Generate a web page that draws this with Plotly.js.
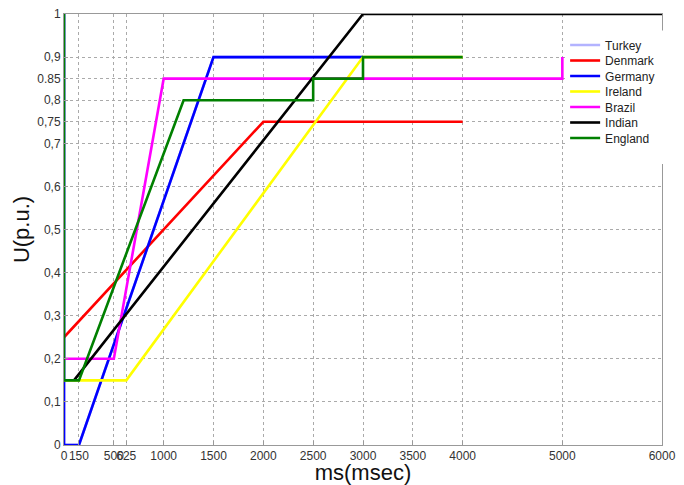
<!DOCTYPE html>
<html>
<head>
<meta charset="utf-8">
<script src="https://cdn.plot.ly/plotly-3.0.1.min.js"></script>
<style>html,body{margin:0;padding:0;background:#fff;}#chart{width:684px;height:485px;}</style>
</head>
<body>
<div id="chart"></div>
<script>
// Data (ms, p.u.)
const turkeyX = [0, 0, 150, 1500, 3000];
const turkeyY = [1, 0, 0, 0.9, 0.9];
const denmarkX = [0, 2000, 4000];
const denmarkY = [0.25, 0.75, 0.75];
const germanyX = [0, 0, 150, 1500, 3000];
const germanyY = [1, 0, 0, 0.9, 0.9];
const irelandX = [0, 625, 3000, 4000];
const irelandY = [0.15, 0.15, 0.9, 0.9];
const brazilX = [0, 500, 1000, 5000, 5000];
const brazilY = [0.2, 0.2, 0.85, 0.85, 0.9];
const indianX = [100, 3000, 6000];
const indianY = [0.15, 1, 1];
const englandX = [0, 0, 150, 1200, 2500, 2500, 3000, 3000, 4000];
const englandY = [1, 0.15, 0.15, 0.8, 0.8, 0.85, 0.85, 0.9, 0.9];

const seriesNames = ['Turkey', 'Denmark', 'Germany', 'Ireland', 'Brazil', 'Indian', 'England'];
const seriesColors = ['#b3b3ff', '#ff0000', '#0000ff', '#ffff00', '#ff00ff', '#000000', '#008000'];
const seriesX = [turkeyX, denmarkX, germanyX, irelandX, brazilX, indianX, englandX];
const seriesY = [turkeyY, denmarkY, germanyY, irelandY, brazilY, indianY, englandY];

const xTickVals = [0, 150, 500, 625, 1000, 1500, 2000, 2500, 3000, 3500, 4000, 5000, 6000];
const xTickText = ["0", "150", "500", "625", "1000", "1500", "2000", "2500", "3000", "3500", "4000", "5000", "6000"];
const yTickVals = [0, 0.1, 0.2, 0.3, 0.4, 0.5, 0.6, 0.7, 0.75, 0.8, 0.85, 0.9, 1];
const yTickText = ["0", "0,1", "0,2", "0,3", "0,4", "0,5", "0,6", "0,7", "0,75", "0,8", "0.85", "0,9", "1"];

const font = 'Arial, "Liberation Sans", sans-serif';
const legendKeys = ['legend', 'legend2', 'legend3', 'legend4', 'legend5', 'legend6', 'legend7'];

const data = seriesNames.map((n, i) => ({
  type: 'scatter', mode: 'lines', name: n, x: seriesX[i], y: seriesY[i],
  line: {color: seriesColors[i], width: 2.6}, cliponaxis: false,
  legend: legendKeys[i]
}));

const layout = {
  width: 684, height: 485,
  margin: {l: 64, r: 22, t: 14, b: 40},
  paper_bgcolor: '#ffffff', plot_bgcolor: '#ffffff',
  font: {family: font, size: 12, color: '#333333'},
  showlegend: true,
  shapes: [{type: 'rect', xref: 'paper', yref: 'paper', layer: 'above',
    x0: 0.838, x1: 1.02, y0: 0.652, y1: 0.962,
    fillcolor: '#ffffff', line: {width: 0}}],
  xaxis: {range: [0, 6000], tickmode: 'array', tickvals: xTickVals, ticktext: xTickText,
    tickangle: 0,
    showgrid: true, gridcolor: '#aaaaaa', griddash: 'dot', gridwidth: 1,
    showline: true, linecolor: '#999999', linewidth: 1, mirror: true,
    ticks: 'inside', ticklen: 4, tickcolor: '#999999', zeroline: false,
    tickfont: {family: font, size: 12, color: '#333'},
    title: {text: 'ms(msec)', font: {family: font, size: 22, color: '#111'}, standoff: 4}},
  yaxis: {range: [0, 1], tickmode: 'array', tickvals: yTickVals, ticktext: yTickText,
    showgrid: true, gridcolor: '#aaaaaa', griddash: 'dot', gridwidth: 1,
    showline: true, linecolor: '#999999', linewidth: 1, mirror: true,
    ticks: 'inside', ticklen: 4, tickcolor: '#999999', zeroline: false,
    tickfont: {family: font, size: 12, color: '#333'},
    title: {text: 'U(p.u.)', font: {family: font, size: 22, color: '#111'}, standoff: 1}}
};
// legend rows, one per series, evenly stacked
const rowTopPx = 45, rowStepPx = 15.5, plotTopPx = 14, plotH = 431;
legendKeys.forEach((k, i) => {
  const py = rowTopPx + i * rowStepPx;
  layout[k] = {x: 0.838, y: 1 - (py - plotTopPx) / plotH, xanchor: 'left', yanchor: 'middle',
    bgcolor: 'rgba(0,0,0,0)', borderwidth: 0,
    font: {family: font, size: 12, color: '#222'}};
});
Plotly.newPlot('chart', data, layout, {displayModeBar: false, staticPlot: true});
</script>
</body>
</html>
